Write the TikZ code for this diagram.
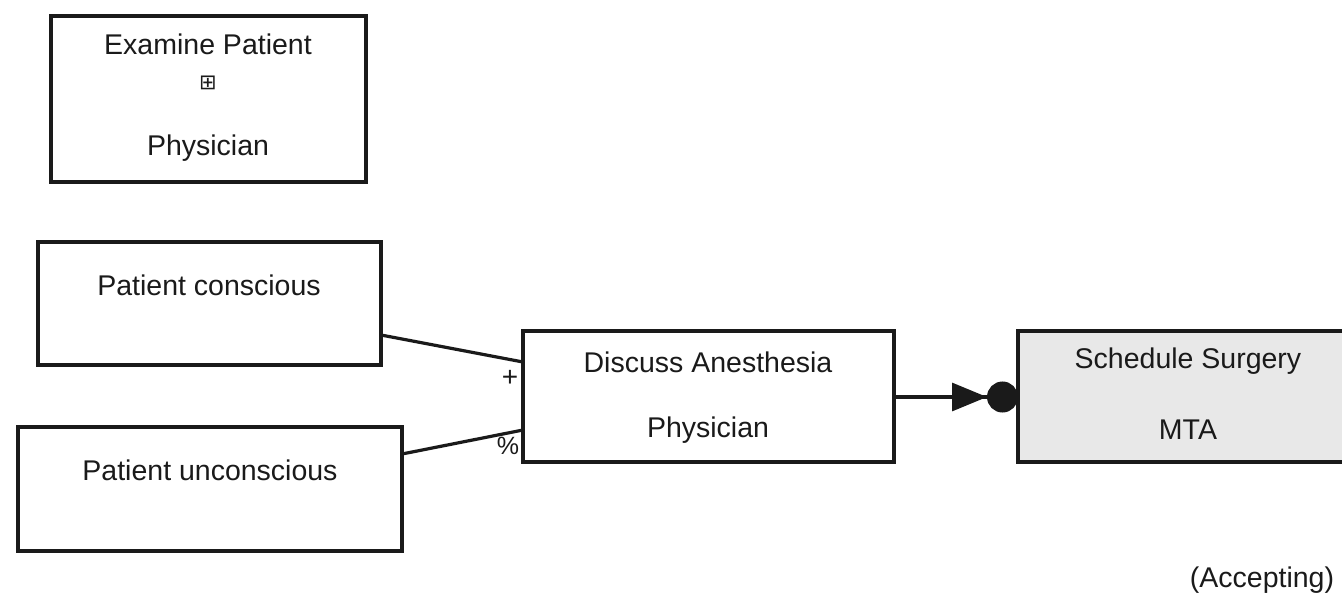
\documentclass[tikz,border=0pt]{standalone}
\usepackage{fontspec}
\setmainfont{Liberation Sans}
\newfontfamily\symfont{DejaVu Sans}
\usetikzlibrary{arrows.meta}
\definecolor{ink}{HTML}{1A1A1A}
\definecolor{boxfill}{HTML}{E8E8E8}
\begin{document}
\begin{tikzpicture}[x=1pt,y=-1pt,
  box/.style={draw=ink,line width=3.2pt,fill=white},
  txt/.style={text=ink,font=\fontsize{28.5}{34}\selectfont,inner sep=0pt,anchor=center},
  conn/.style={draw=ink,line width=3.2pt}]
\useasboundingbox (0,0) rectangle (1342,595);
\clip (0,0) rectangle (1342,595);
% boxes
\draw[box] (51,16) rectangle (366,182);
\node[txt] (ep1) at (208,44) {Examine Patient};
\node[txt,font=\symfont\fontsize{21}{24}\selectfont] (epsym) at (208,83) {⊞};
\node[txt] (ep2) at (208,148) {Physician};

\draw[box] (38,242) rectangle (381,365);
\node[txt] (pc) at (209,285) {Patient conscious};
\coordinate (pcE) at (381,335);

\draw[box] (18,427) rectangle (402,551);
\node[txt] (pu) at (210,470) {Patient unconscious};
\coordinate (puE) at (402,454);

\draw[box] (523,331) rectangle (894,462);
\node[txt] (da1) at (708,362) {Discuss Anesthesia};
\node[txt] (da2) at (708,430) {Physician};
\coordinate (daW1) at (523,362);
\coordinate (daW2) at (523,430);
\coordinate (daE) at (894,397);

\draw[box,fill=boxfill] (1018,331) rectangle (1358,462);
\node[txt] (ss1) at (1188,361) {Schedule Surgery};
\node[txt] (ss2) at (1188,430) {MTA};
\coordinate (ssW) at (1018,397);

\node[txt] (acc) at (1262,580) {(Accepting)};

% connectors
\draw[conn] (pcE) -- (daW1);
\draw[conn] (puE) -- (daW2);
\node[txt,font=\fontsize{28}{30}\selectfont] (plus) at (510,378) {+};
\node[txt,font=\fontsize{25}{28}\selectfont] (pct) at (508,446) {\%};
\draw[conn,-{Triangle[length=35pt,width=28pt,sep=0pt]Circle[length=31pt,sep=0pt]}] (daE) -- (ssW);
\end{tikzpicture}
\end{document}
